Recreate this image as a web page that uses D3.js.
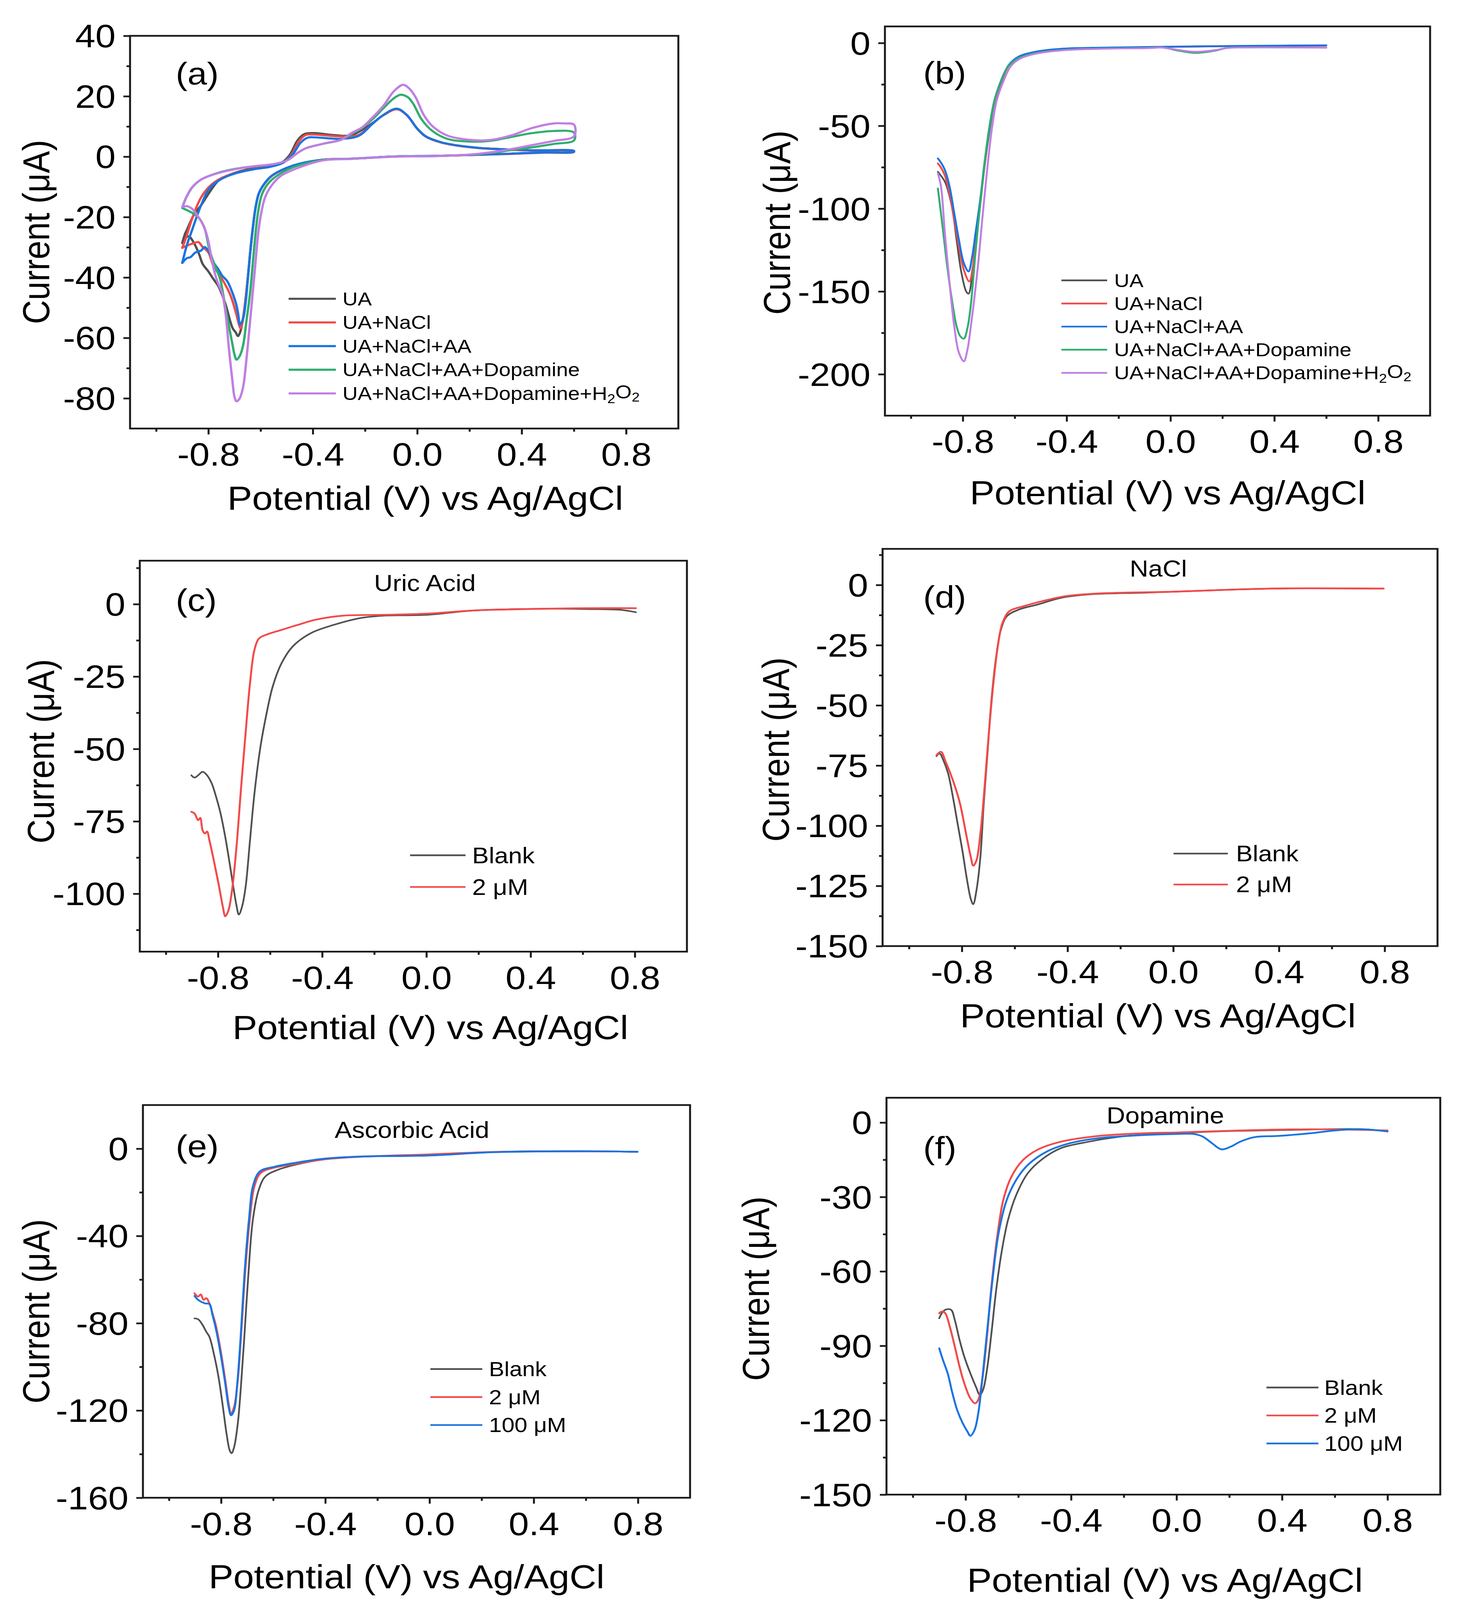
<!DOCTYPE html>
<html>
<head>
<meta charset="utf-8">
<script src="https://cdn.jsdelivr.net/npm/d3@7"></script>
<style>
  html, body { margin: 0; padding: 0; background: #ffffff; overflow: hidden; width: 100%; height: 100%; }
  svg { display: block; width: 100vw; height: 100vh; }
  text { font-family: "Liberation Sans", Arial, Helvetica, sans-serif; fill: #000; }
</style>
</head>
<body>
<svg id="chart" viewBox="0 0 3736 4600" preserveAspectRatio="none"></svg>
<script>
// ---------------- DATA (potential V vs Ag/AgCl, current µA) ----------------
const xMajorTicks = [-0.8, -0.4, 0.0, 0.4, 0.8];
const xMinorTicks = [-1.0, -0.6, -0.2, 0.2, 0.6];

// panel (a) – cyclic voltammograms
const aYMajor = [40, 20, 0, -20, -40, -60, -80];
const aYMinor = [30, 10, -10, -30, -50, -70];
const aLegend = ["UA", "UA+NaCl", "UA+NaCl+AA", "UA+NaCl+AA+Dopamine", "UA+NaCl+AA+Dopamine+H2O2"];
const aUA = [[-0.900,-28.6],[-0.889,-25.5],[-0.882,-24.2],[-0.855,-19.2],[-0.828,-16.1],[-0.795,-11.7],[-0.761,-7.9],[-0.728,-6.3],[-0.66,-4.4],[-0.593,-3.5],[-0.546,-2.6],[-0.513,-1.6],[-0.486,0.9],[-0.459,5.3],[-0.432,7.5],[-0.392,7.8],[-0.325,7.2],[-0.258,7.0],[-0.21,8.9],[-0.17,11.2],[-0.13,13.7],[-0.078,15.7],[-0.04,13.8],[0.0,9.3],[0.033,6.7],[0.09,4.8],[0.155,3.7],[0.237,2.9],[0.318,2.5],[0.441,2.1],[0.6,1.9],
  [0.6,1.6],[0.48,1.4],[0.359,1.0],[0.237,0.65],[0.074,0.27],[-0.089,0.05],[-0.25,-0.7],[-0.359,-1.0],[-0.459,-2.6],[-0.526,-4.8],[-0.56,-6.6],[-0.587,-9.2],[-0.607,-12.3],[-0.62,-17.3],[-0.63,-24],[-0.64,-32],[-0.65,-41],[-0.66,-49],[-0.67,-55],[-0.68,-58.5],[-0.687,-59.4],[-0.695,-58.2],[-0.707,-56.8],[-0.735,-48.7],[-0.761,-43.0],[-0.781,-40.5],[-0.8,-38.0],[-0.822,-35.5],[-0.835,-32.4],[-0.855,-28.6],[-0.875,-26.4],[-0.889,-27.0],[-0.9,-28.6]];
const aNaCl = [[-0.9,-30.2],[-0.885,-26.7],[-0.862,-20.4],[-0.828,-13.5],[-0.795,-9.8],[-0.748,-7.0],[-0.694,-5.4],[-0.627,-4.1],[-0.56,-3.2],[-0.513,-1.9],[-0.48,0.9],[-0.452,5.3],[-0.426,7.2],[-0.392,7.3],[-0.291,6.7],[-0.224,7.2],[-0.17,11.0],[-0.13,13.7],[-0.078,15.7],[-0.04,13.7],[0.0,9.2],[0.033,6.6],[0.09,4.7],[0.155,3.6],[0.237,2.8],[0.318,2.4],[0.441,2.0],[0.6,1.8],
  [0.6,1.5],[0.48,1.3],[0.359,0.9],[0.237,0.6],[0.074,0.25],[-0.089,0.05],[-0.25,-0.7],[-0.359,-1.0],[-0.459,-2.6],[-0.526,-4.8],[-0.56,-6.6],[-0.587,-9.2],[-0.607,-12.3],[-0.62,-17.3],[-0.627,-21.7],[-0.637,-29.2],[-0.647,-38.7],[-0.657,-47.0],[-0.667,-53.5],[-0.677,-56.8],[-0.686,-54.5],[-0.694,-51.8],[-0.714,-46.2],[-0.735,-42.4],[-0.761,-38.7],[-0.781,-36.1],[-0.8,-31.7],[-0.822,-29.9],[-0.838,-28.3],[-0.855,-28.6],[-0.875,-29.2],[-0.9,-30.2]];
const aAA = [[-0.9,-35.2],[-0.882,-29.2],[-0.862,-24.2],[-0.828,-16.1],[-0.795,-10.4],[-0.748,-7.3],[-0.694,-5.5],[-0.627,-4.2],[-0.56,-3.3],[-0.513,-2.0],[-0.475,1.0],[-0.446,4.7],[-0.419,6.3],[-0.392,6.4],[-0.291,5.9],[-0.224,6.9],[-0.17,11.0],[-0.13,13.8],[-0.078,15.9],[-0.04,13.8],[0.0,9.3],[0.033,6.7],[0.09,4.8],[0.155,3.7],[0.237,2.9],[0.318,2.5],[0.441,2.1],[0.6,1.9],
  [0.6,1.6],[0.48,1.4],[0.359,1.0],[0.237,0.65],[0.074,0.27],[-0.089,0.08],[-0.25,-0.67],[-0.359,-1.0],[-0.459,-2.5],[-0.526,-4.7],[-0.56,-6.5],[-0.587,-9.1],[-0.607,-12.2],[-0.62,-17.2],[-0.627,-21.6],[-0.637,-29.1],[-0.647,-38.6],[-0.657,-48.0],[-0.667,-53.6],[-0.679,-55.6],[-0.686,-52.0],[-0.694,-48.7],[-0.714,-43.7],[-0.728,-41.2],[-0.748,-39.3],[-0.761,-37.4],[-0.781,-34.9],[-0.8,-31.1],[-0.815,-29.9],[-0.828,-31.1],[-0.849,-31.7],[-0.869,-33.3],[-0.882,-33.6],[-0.9,-35.2]];
const aDopamine = [[-0.9,-17.0],[-0.885,-13.6],[-0.862,-10.2],[-0.828,-7.6],[-0.761,-5.3],[-0.694,-4.0],[-0.627,-3.2],[-0.56,-2.6],[-0.52,-1.9],[-0.493,-1.0],[-0.459,1.2],[-0.426,2.8],[-0.359,4.3],[-0.291,5.6],[-0.252,7.5],[-0.211,9.5],[-0.17,12.5],[-0.13,16.0],[-0.09,19.3],[-0.063,20.5],[-0.035,19.6],[-0.016,17.6],[0.017,12.3],[0.058,8.5],[0.115,5.9],[0.196,5.0],[0.278,5.2],[0.359,6.5],[0.441,7.8],[0.522,8.5],[0.6,8.0],
  [0.6,5.35],[0.522,4.2],[0.441,3.1],[0.359,2.15],[0.278,1.2],[0.196,0.6],[0.074,0.2],[-0.089,0.0],[-0.25,-0.7],[-0.359,-1.1],[-0.459,-3.0],[-0.526,-5.7],[-0.567,-8.5],[-0.594,-12.3],[-0.61,-18.6],[-0.62,-26.1],[-0.63,-35.5],[-0.64,-44.9],[-0.654,-54.3],[-0.667,-62.5],[-0.68,-66.0],[-0.692,-67.2],[-0.7,-65.5],[-0.707,-62.5],[-0.721,-56.2],[-0.735,-49.9],[-0.755,-40.5],[-0.775,-36.1],[-0.795,-31.1],[-0.815,-23.6],[-0.835,-20.4],[-0.862,-18.6],[-0.9,-17.0]];
const aH2O2 = [[-0.9,-16.7],[-0.885,-13.5],[-0.862,-10.1],[-0.828,-7.6],[-0.761,-5.4],[-0.694,-4.1],[-0.627,-3.2],[-0.56,-2.6],[-0.52,-1.9],[-0.493,-1.0],[-0.459,1.2],[-0.426,2.8],[-0.359,4.3],[-0.291,5.6],[-0.252,7.8],[-0.211,9.7],[-0.17,13.1],[-0.13,16.8],[-0.089,21.7],[-0.054,23.8],[-0.03,22.5],[-0.007,19.8],[0.025,13.8],[0.058,10.1],[0.115,7.0],[0.196,5.6],[0.278,5.5],[0.359,7.0],[0.441,9.5],[0.522,11.0],[0.563,11.0],[0.6,10.6],
  [0.6,6.7],[0.522,5.2],[0.441,3.85],[0.359,2.5],[0.278,1.4],[0.196,0.65],[0.074,0.2],[-0.089,0.0],[-0.25,-0.75],[-0.359,-1.2],[-0.459,-3.8],[-0.526,-6.6],[-0.56,-9.8],[-0.583,-13.5],[-0.6,-19.8],[-0.61,-26.1],[-0.62,-35.5],[-0.63,-44.9],[-0.64,-54.3],[-0.654,-66.9],[-0.667,-76.3],[-0.68,-80.0],[-0.692,-81.0],[-0.7,-79.5],[-0.707,-75.0],[-0.721,-63.8],[-0.735,-51.2],[-0.748,-44.9],[-0.761,-42.4],[-0.775,-38.7],[-0.788,-33.6],[-0.8,-28.0],[-0.815,-23.6],[-0.835,-20.4],[-0.862,-17.3],[-0.882,-16.4],[-0.9,-16.7]];

// panel (b)
const bYMajor = [0, -50, -100, -150, -200];
const bYMinor = [-25, -75, -125, -175];
const bUA = [[-0.896,-77.7],[-0.885,-80],[-0.869,-83.7],[-0.842,-98.8],[-0.824,-118.9],[-0.805,-139],[-0.787,-150],[-0.778,-151.4],[-0.765,-142],[-0.75,-122],[-0.733,-98],[-0.715,-73],[-0.696,-52],[-0.678,-35.5],[-0.651,-23],[-0.624,-14],[-0.587,-9],[-0.524,-6],[-0.415,-3.8],[-0.269,-3.0],[-0.087,-2.6],[0.1,-2.2],[0.3,-1.8],[0.6,-1.6]];
const bNaCl = [[-0.896,-72.7],[-0.885,-75],[-0.869,-80],[-0.851,-91],[-0.833,-107],[-0.815,-123],[-0.796,-137],[-0.775,-144],[-0.762,-136],[-0.75,-118],[-0.733,-96],[-0.715,-72],[-0.696,-51],[-0.678,-35],[-0.651,-22.8],[-0.624,-13.8],[-0.587,-8.6],[-0.524,-5.6],[-0.415,-3.6],[-0.269,-2.9],[-0.087,-2.5],[0.1,-2.1],[0.3,-1.8],[0.6,-1.5]];
const bAA = [[-0.896,-69.7],[-0.885,-72],[-0.869,-76.7],[-0.851,-86.7],[-0.833,-102.8],[-0.815,-118.9],[-0.796,-132.9],[-0.778,-138],[-0.765,-130],[-0.751,-114.9],[-0.733,-94.8],[-0.715,-70.7],[-0.696,-50.6],[-0.678,-34.5],[-0.651,-22.5],[-0.624,-13.5],[-0.587,-8.4],[-0.524,-5.4],[-0.415,-3.4],[-0.269,-2.8],[-0.087,-2.4],[0.1,-2.0],[0.3,-1.7],[0.6,-1.4]];
const bDopamine = [[-0.896,-87.8],[-0.878,-110.8],[-0.86,-135],[-0.842,-155],[-0.824,-171],[-0.81,-177],[-0.796,-178.5],[-0.782,-172],[-0.769,-158],[-0.752,-128],[-0.735,-100],[-0.718,-75],[-0.7,-53],[-0.68,-36],[-0.655,-23.5],[-0.627,-14.5],[-0.59,-9.5],[-0.524,-6.2],[-0.415,-4.2],[-0.269,-3.4],[-0.087,-3.0],[-0.033,-2.6],[0.022,-4.4],[0.095,-6.0],[0.167,-4.8],[0.222,-2.9],[0.3,-2.6],[0.45,-2.6],[0.6,-2.8]];
const bH2O2 = [[-0.896,-78.7],[-0.884,-86.7],[-0.869,-114.9],[-0.851,-145],[-0.833,-171],[-0.815,-187],[-0.796,-192.2],[-0.782,-185],[-0.769,-171],[-0.742,-135],[-0.724,-104.8],[-0.705,-74.7],[-0.687,-50.6],[-0.669,-34.5],[-0.642,-22.5],[-0.615,-14],[-0.58,-9.5],[-0.52,-6.5],[-0.415,-4.4],[-0.269,-3.5],[-0.087,-3.1],[-0.033,-2.8],[0.022,-4.0],[0.095,-5.3],[0.167,-4.4],[0.222,-3.0],[0.3,-2.7],[0.45,-2.7],[0.6,-2.8]];

// panel (c) Uric Acid
const cYMajor = [0, -25, -50, -75, -100];
const cYMinor = [12.5, -12.5, -37.5, -62.5, -87.5, -112.5];
const cBlank = [[-0.902,-59.1],[-0.89,-59.9],[-0.876,-59.1],[-0.859,-57.9],[-0.842,-59.1],[-0.824,-61.9],[-0.807,-66.6],[-0.79,-72.3],[-0.772,-80.4],[-0.755,-89.6],[-0.741,-97.7],[-0.729,-104],[-0.72,-107.2],[-0.708,-104.6],[-0.694,-97.7],[-0.677,-81.5],[-0.66,-65.4],[-0.637,-49.3],[-0.616,-38.9],[-0.59,-28.5],[-0.556,-20.4],[-0.513,-14.6],[-0.443,-10],[-0.357,-7.2],[-0.253,-4.8],[-0.166,-4.0],[0,-3.7],[0.18,-2.2],[0.44,-1.6],[0.613,-1.7],[0.75,-2.0],[0.804,-2.8]];
const c2uM = [[-0.902,-71.7],[-0.89,-72.3],[-0.876,-74.6],[-0.868,-73.8],[-0.859,-78.1],[-0.85,-79.2],[-0.842,-78.5],[-0.833,-81.5],[-0.816,-88.5],[-0.798,-96.5],[-0.781,-104.6],[-0.772,-107.8],[-0.76,-105.8],[-0.746,-98.8],[-0.729,-83.9],[-0.712,-64.2],[-0.694,-44.6],[-0.677,-27.3],[-0.66,-15.8],[-0.642,-11.8],[-0.616,-10.6],[-0.564,-9.1],[-0.495,-7.2],[-0.426,-5.4],[-0.322,-4.0],[-0.166,-3.7],[0,-3.3],[0.18,-2.2],[0.44,-1.6],[0.613,-1.4],[0.804,-1.4]];

// panel (d) NaCl
const dYMajor = [0, -25, -50, -75, -100, -125, -150];
const dYMinor = [12.5, -12.5, -37.5, -62.5, -87.5, -112.5, -137.5];
const dBlank = [[-0.896,-71.1],[-0.884,-70],[-0.87,-72.8],[-0.852,-78.3],[-0.834,-88],[-0.816,-99.2],[-0.798,-110.3],[-0.78,-122.8],[-0.766,-130.5],[-0.757,-132.6],[-0.745,-127],[-0.73,-113.1],[-0.718,-92.2],[-0.704,-71.4],[-0.688,-47.7],[-0.67,-29.6],[-0.652,-18.5],[-0.629,-12.9],[-0.584,-10.2],[-0.513,-8.1],[-0.423,-5.3],[-0.316,-3.9],[-0.102,-3.2],[0,-2.8],[0.255,-1.8],[0.434,-1.4],[0.796,-1.5]];
const d2uM = [[-0.896,-70.7],[-0.879,-69.3],[-0.861,-73.5],[-0.834,-81.1],[-0.807,-90.8],[-0.784,-103.4],[-0.766,-113.1],[-0.757,-116.6],[-0.745,-114.5],[-0.73,-103.4],[-0.716,-86.7],[-0.7,-64.4],[-0.682,-42.2],[-0.664,-25.5],[-0.646,-15.7],[-0.62,-10.9],[-0.566,-8.8],[-0.495,-6.7],[-0.405,-4.6],[-0.28,-3.5],[0,-2.8],[0.255,-1.8],[0.434,-1.4],[0.796,-1.5]];

// panel (e) Ascorbic Acid
const eYMajor = [0, -40, -80, -120, -160];
const eYMinor = [-20, -60, -100, -140];
const eBlank = [[-0.902,-77.8],[-0.888,-78.2],[-0.871,-80.8],[-0.857,-83.9],[-0.845,-86.2],[-0.828,-93.9],[-0.81,-104.6],[-0.793,-118.4],[-0.779,-130.7],[-0.767,-138.3],[-0.76,-139.6],[-0.75,-136.8],[-0.736,-126.1],[-0.724,-109.2],[-0.71,-84.7],[-0.695,-57.1],[-0.678,-32.5],[-0.655,-18.7],[-0.629,-12.6],[-0.578,-9.5],[-0.509,-7.2],[-0.405,-4.9],[-0.267,-3.7],[0,-3.1],[0.25,-1.5],[0.595,-1.1],[0.798,-1.5]];
const e2uM = [[-0.902,-66.3],[-0.888,-67.8],[-0.878,-66.8],[-0.867,-69.3],[-0.857,-68.5],[-0.845,-70.9],[-0.833,-75.5],[-0.819,-81.6],[-0.802,-92.3],[-0.784,-106.1],[-0.771,-116.9],[-0.762,-121.5],[-0.75,-118.4],[-0.736,-106.1],[-0.722,-83.1],[-0.707,-55.5],[-0.69,-32.5],[-0.672,-17.2],[-0.647,-11],[-0.595,-8.7],[-0.526,-7.2],[-0.405,-4.9],[-0.267,-3.7],[0,-2.6],[0.25,-1.5],[0.595,-1.2],[0.798,-1.4]];
const e100uM = [[-0.902,-67.5],[-0.888,-69.3],[-0.862,-70.9],[-0.845,-71.2],[-0.833,-76.2],[-0.819,-83.1],[-0.802,-93.9],[-0.784,-107.7],[-0.771,-118.4],[-0.762,-122.2],[-0.75,-119.9],[-0.738,-107.7],[-0.724,-84.7],[-0.71,-57.1],[-0.693,-32.5],[-0.676,-16.4],[-0.65,-10.3],[-0.595,-8.3],[-0.526,-6.7],[-0.405,-4.6],[-0.267,-3.6],[0,-3.1],[0.25,-1.6],[0.595,-1.2],[0.798,-1.4]];

// panel (f) Dopamine
const fYMajor = [0, -30, -60, -90, -120, -150];
const fYMinor = [-15, -45, -75, -105, -135];
const fBlank = [[-0.9,-78.9],[-0.886,-76.2],[-0.872,-75.3],[-0.855,-75.5],[-0.841,-79.6],[-0.823,-87.6],[-0.805,-94.4],[-0.782,-101.1],[-0.761,-106.5],[-0.746,-109.8],[-0.734,-107.8],[-0.719,-99.7],[-0.702,-84.9],[-0.684,-67.5],[-0.662,-51.3],[-0.639,-39.2],[-0.608,-29.2],[-0.564,-20.4],[-0.51,-14.8],[-0.438,-10.3],[-0.331,-7.7],[-0.206,-5.6],[0,-4.3],[0.152,-3.6],[0.42,-3.0],[0.707,-2.7],[0.8,-3.6]];
const f2uM = [[-0.9,-76.9],[-0.89,-76.2],[-0.877,-76.9],[-0.86,-82.3],[-0.841,-90.3],[-0.823,-98.4],[-0.805,-105.1],[-0.782,-111.2],[-0.764,-113.2],[-0.752,-111.8],[-0.737,-103.8],[-0.719,-86.3],[-0.702,-66.1],[-0.68,-46],[-0.657,-31.2],[-0.626,-21.8],[-0.582,-15.1],[-0.528,-11],[-0.438,-7.7],[-0.295,-5.4],[-0.116,-4.3],[0,-4],[0.242,-3.2],[0.51,-2.7],[0.8,-3.2]];
const f100uM = [[-0.9,-91],[-0.886,-95.7],[-0.868,-101.1],[-0.85,-109.1],[-0.832,-115.9],[-0.811,-121.2],[-0.793,-124.6],[-0.782,-126.3],[-0.766,-123.9],[-0.752,-117.2],[-0.737,-103.8],[-0.719,-84.9],[-0.698,-63.4],[-0.675,-44.6],[-0.644,-31.2],[-0.608,-23.1],[-0.564,-17.1],[-0.492,-11.7],[-0.403,-8.3],[-0.295,-6.3],[-0.116,-5],[0,-4.6],[0.063,-4.6],[0.098,-5.6],[0.134,-8.3],[0.17,-10.8],[0.206,-9.7],[0.242,-7.7],[0.295,-5.9],[0.385,-5.4],[0.51,-4.3],[0.6,-3.2],[0.707,-2.7],[0.8,-3.6]];

const concLegend2 = ["Blank", "2 μM"];
const concLegend3 = ["Blank", "2 μM", "100 μM"];

// ---------------- STYLE / LAYOUT ----------------
const COL = { gray: "#505050", red: "#f24a4a", blue: "#1a74e0", green: "#2fae6e", purple: "#c17ee3" };
const FONT = '"Liberation Sans", Arial, Helvetica, sans-serif';

const panels = [
  { label: "(a)", box: [333, 1737, 103, 1232], yDom: [-90, 40], yMajor: aYMajor, yMinor: aYMinor,
    series: [[aUA, COL.gray], [aNaCl, COL.red], [aAA, COL.blue], [aDopamine, COL.green], [aH2O2, COL.purple]], lw: 6,
    legend: { names: aLegend, x1: 739, x2: 860, tx: 877, y0: 859, dy: 68, fs: 54 },
    labelPos: [450, 243], title: null, xTitle: [1089, 1466], yTitle: [92, 667] },
  { label: "(b)", box: [2266, 3662, 76, 1195], yDom: [-225, 10], yMajor: bYMajor, yMinor: bYMinor,
    series: [[bUA, COL.gray], [bNaCl, COL.red], [bAA, COL.blue], [bDopamine, COL.green], [bH2O2, COL.purple]], lw: 5,
    legend: { names: aLegend, x1: 2718, x2: 2835, tx: 2853, y0: 806, dy: 66.5, fs: 54 },
    labelPos: [2364, 240], title: null, xTitle: [2990, 1450], yTitle: [1989, 640] },
  { label: "(c)", box: [358, 1759, 1612, 2736], yDom: [-120, 15], yMajor: cYMajor, yMinor: cYMinor,
    series: [[cBlank, COL.gray], [c2uM, COL.red]], lw: 5,
    legend: { names: concLegend2, x1: 1050, x2: 1192, tx: 1209, y0: 2459, dy: 91, fs: 64 },
    labelPos: [450, 1757], title: ["Uric Acid", 1088, 1699], xTitle: [1102, 2987], yTitle: [104, 2160] },
  { label: "(d)", box: [2260, 3681, 1578, 2720], yDom: [-150, 15], yMajor: dYMajor, yMinor: dYMinor,
    series: [[dBlank, COL.gray], [d2uM, COL.red]], lw: 5,
    legend: { names: concLegend2, x1: 3005, x2: 3144, tx: 3165, y0: 2454, dy: 89, fs: 64 },
    labelPos: [2364, 1747], title: ["NaCl", 2966, 1658], xTitle: [2965, 2954], yTitle: [1986, 2155] },
  { label: "(e)", box: [366, 1767, 3177, 4306], yDom: [-160, 20], yMajor: eYMajor, yMinor: eYMinor,
    series: [[eBlank, COL.gray], [e2uM, COL.red], [e100uM, COL.blue]], lw: 5,
    legend: { names: concLegend3, x1: 1102, x2: 1235, tx: 1252, y0: 3936, dy: 80.5, fs: 59 },
    labelPos: [450, 3326], title: ["Ascorbic Acid", 1055, 3271], xTitle: [1041, 4566], yTitle: [92, 3770] },
  { label: "(f)", box: [2270, 3688, 3156, 4297], yDom: [-150, 10], yMajor: fYMajor, yMinor: fYMinor,
    series: [[fBlank, COL.gray], [f2uM, COL.red], [f100uM, COL.blue]], lw: 5,
    legend: { names: concLegend3, x1: 3243, x2: 3376, tx: 3391, y0: 3989, dy: 80.5, fs: 60 },
    labelPos: [2364, 3331], title: ["Dopamine", 2984, 3230], xTitle: [2983, 4576], yTitle: [1935, 3705] }
];

const svg = d3.select("#chart");
svg.append("rect").attr("width", 3736).attr("height", 4600).attr("fill", "#fff");

const AXC = "#1a1a1a", AXW = 5, MAJ = 17, MIN = 9;
const TICK_FS = 93, TITLE_FS = 95;

function writeLegendText(sel, name) {
  if (name.endsWith("H2O2")) {
    sel.append("tspan").text(name.slice(0, -4) + "H");
    sel.append("tspan").text("2").attr("font-size", "0.68em").attr("dy", "0.25em");
    sel.append("tspan").text("O").attr("dy", "-0.25em");
    sel.append("tspan").text("2").attr("font-size", "0.68em").attr("dy", "0.25em");
  } else {
    sel.text(name);
  }
}

panels.forEach(p => {
  const [L, R, T, B] = p.box;
  const x = d3.scaleLinear().domain([-1.1, 1.0]).range([L, R]);
  const y = d3.scaleLinear().domain(p.yDom).range([B, T]);
  const g = svg.append("g");

  // series
  const line = d3.line().x(d => x(d[0])).y(d => y(d[1])).curve(d3.curveCatmullRom.alpha(0.5));
  p.series.forEach(([data, color]) => {
    g.append("path").datum(data).attr("d", line)
      .attr("fill", "none").attr("stroke", color)
      .attr("stroke-width", color === COL.gray && p.lw === 5 ? 4.5 : p.lw)
      .attr("stroke-linejoin", "round").attr("stroke-linecap", "round");
  });

  // bottom axis (hyphen minus as in the original)
  const fmtX = d => d.toFixed(1);
  const xAxis = d3.axisBottom(x).tickValues(xMajorTicks).tickSize(MAJ).tickPadding(24).tickFormat(fmtX);
  const xg = g.append("g").attr("transform", `translate(0,${B})`).call(xAxis);
  const xMinor = d3.axisBottom(x).tickValues(xMinorTicks).tickSize(MIN).tickFormat("");
  const xmg = g.append("g").attr("transform", `translate(0,${B})`).call(xMinor);

  // left axis
  const yAxis = d3.axisLeft(y).tickValues(p.yMajor).tickSize(MAJ).tickPadding(20).tickFormat(d => String(d));
  const yg = g.append("g").attr("transform", `translate(${L},0)`).call(yAxis);
  const yMinor = d3.axisLeft(y).tickValues(p.yMinor).tickSize(MIN).tickFormat("");
  const ymg = g.append("g").attr("transform", `translate(${L},0)`).call(yMinor);

  [xg, xmg, yg, ymg].forEach(a => {
    a.select(".domain").remove();
    a.selectAll(".tick line").attr("stroke", AXC).attr("stroke-width", AXW);
    a.selectAll(".tick text").attr("font-family", FONT).attr("font-size", TICK_FS).attr("fill", "#000");
  });
  xg.selectAll(".tick text").attr("dy", "0.71em");
  yg.selectAll(".tick text").attr("dy", "0.35em");

  // frame
  g.append("rect").attr("x", L).attr("y", T).attr("width", R - L).attr("height", B - T)
    .attr("fill", "none").attr("stroke", AXC).attr("stroke-width", AXW);

  // axis titles
  g.append("text").attr("x", p.xTitle[0]).attr("y", p.xTitle[1]).attr("text-anchor", "middle")
    .attr("font-size", TITLE_FS).text("Potential (V) vs Ag/AgCl");
  g.append("text").attr("transform", `translate(${p.yTitle[0]},${p.yTitle[1]}) rotate(-90)`)
    .attr("text-anchor", "middle").attr("dy", "0.35em").attr("font-size", 96).text("Current (μA)");

  // panel label and sub-title
  g.append("text").attr("x", p.labelPos[0]).attr("y", p.labelPos[1]).attr("font-size", 90).text(p.label);
  if (p.title) {
    g.append("text").attr("x", p.title[1]).attr("y", p.title[2]).attr("text-anchor", "middle")
      .attr("font-size", 66).text(p.title[0]);
  }

  // legend
  const lg = p.legend;
  lg.names.forEach((name, i) => {
    const yy = lg.y0 + i * lg.dy;
    const color = p.series[i][1];
    g.append("line").attr("x1", lg.x1).attr("x2", lg.x2).attr("y1", yy).attr("y2", yy)
      .attr("stroke", color).attr("stroke-width", p.lw === 6 ? 6 : 5);
    const t = g.append("text").attr("x", lg.tx).attr("y", yy).attr("dy", "0.35em").attr("font-size", lg.fs);
    writeLegendText(t, name);
  });
});
</script>
</body>
</html>
